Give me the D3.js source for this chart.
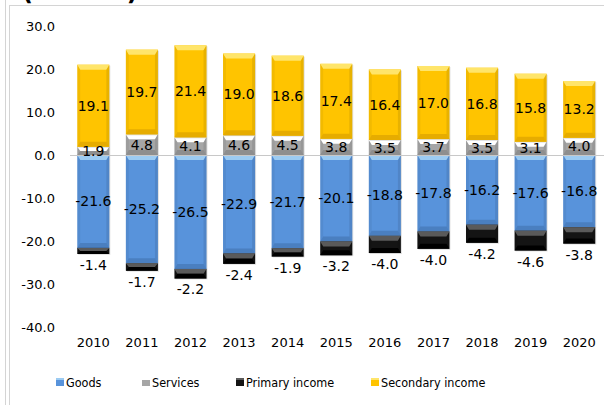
<!DOCTYPE html>
<html><head><meta charset="utf-8">
<script src="https://cdn.jsdelivr.net/npm/d3@7"></script>
<style>body{margin:0;background:#fff;}svg{display:block;}</style>
</head><body>
<script>
const years = ["2010","2011","2012","2013","2014","2015","2016","2017","2018","2019","2020"];
const goods = [-21.6,-25.2,-26.5,-22.9,-21.7,-20.1,-18.8,-17.8,-16.2,-17.6,-16.8];
const services = [1.9,4.8,4.1,4.6,4.5,3.8,3.5,3.7,3.5,3.1,4.0];
const primaryIncome = [-1.4,-1.7,-2.2,-2.4,-1.9,-3.2,-4.0,-4.0,-4.2,-4.6,-3.8];
const secondaryIncome = [19.1,19.7,21.4,19.0,18.6,17.4,16.4,17.0,16.8,15.8,13.2];
const yTicks = [30,20,10,0,-10,-20,-30,-40];
const seriesNames = ["Goods","Services","Primary income","Secondary income"];

const W=604,H=405;
const svg=d3.select("body").append("svg").attr("width",W).attr("height",H);
const numFont="'DejaVu Sans', Verdana, sans-serif";
const fmt=v=>d3.format(".1f")(v).replace("\u2212","-");

// frame
svg.append("line").attr("x1",5.5).attr("x2",5.5).attr("y1",0).attr("y2",H).attr("stroke","#d4d4d4");
svg.append("line").attr("x1",9.5).attr("x2",9.5).attr("y1",5).attr("y2",H).attr("stroke","#d4d4d4");
svg.append("line").attr("x1",9.5).attr("x2",W).attr("y1",5.5).attr("y2",5.5).attr("stroke","#d4d4d4");
const title=svg.append("text").attr("x",22).attr("y",-0.5).attr("font-family",numFont).attr("font-weight","bold")
  .attr("font-size",18).attr("fill","#000");
title.append("tspan").attr("font-size",24).text("(");
title.append("tspan").attr("dy",-2).text("% of GDP");
title.append("tspan").attr("dy",2).attr("font-size",24).text(")");

const x=d3.scaleBand().domain(years).range([69,603.5]).paddingInner(0.34).paddingOuter(0.17);
const y=d3.scaleLinear().domain([-40,30]).range([327,26]);

// y tick labels
const yAxis=d3.axisLeft(y).tickValues(yTicks).tickFormat(fmt).tickSize(0).tickPadding(0);
const ga=svg.append("g").attr("transform","translate(55,0)").call(yAxis);
ga.select(".domain").remove();
ga.selectAll("text").attr("font-family",numFont).attr("font-size",13).attr("fill","#000").attr("dy","0.35em");

// x labels
const xAxis=d3.axisBottom(x).tickSize(0).tickPadding(0);
const gx=svg.append("g").attr("transform","translate(0,342)").call(xAxis);
gx.select(".domain").remove();
gx.selectAll("text").attr("font-family",numFont).attr("font-size",13).attr("fill","#000").attr("dy","0.35em");

const styles={
  "Goods":{fill:"#5893DB",top:"#9CCBF2",bot:"#4A7FC0"},
  "Services":{fill:"#A6A6A6",top:"#FFFFFF",bot:"#8E8E8E"},
  "Primary income":{fill:"#141414",top:"#5A5A5A",bot:"#000000"},
  "Secondary income":{fill:"#FFC400",top:"#FFE56A",bot:"#E6AC00"}
};

const data=years.map((yr,i)=>({year:yr,Goods:goods[i],Services:services[i],"Primary income":primaryIncome[i],"Secondary income":secondaryIncome[i]}));
const stack=d3.stack().keys(seriesNames).offset(d3.stackOffsetDiverging);
const layers=stack(data);

const bw=x.bandwidth();
const gBars=svg.append("g");
layers.forEach(layer=>{
  const st=styles[layer.key];
  layer.forEach(seg=>{
    const x0=x(seg.data.year);
    const yTop=y(Math.max(seg[0],seg[1])), yBot=y(Math.min(seg[0],seg[1]));
    const h=yBot-yTop;
    const g=gBars.append("g");
    g.append("rect").attr("x",x0+1).attr("y",yTop+1).attr("width",bw).attr("height",h).attr("fill","rgba(0,0,0,0.12)");
    g.append("rect").attr("x",x0).attr("y",yTop).attr("width",bw).attr("height",h).attr("fill",st.fill);
    const b=Math.min(5,h/2), s=Math.min(3,h/2);
    g.append("path").attr("d",`M${x0},${yTop}L${x0+bw},${yTop}L${x0+bw-s},${yTop+b}L${x0+s},${yTop+b}Z`).attr("fill",st.top);
    g.append("path").attr("d",`M${x0},${yBot}L${x0+bw},${yBot}L${x0+bw-s},${yBot-b}L${x0+s},${yBot-b}Z`).attr("fill",st.bot);
    g.append("path").attr("d",`M${x0},${yTop}L${x0+s},${yTop+b}L${x0+s},${yBot-b}L${x0},${yBot}Z`).attr("fill","rgba(0,0,0,0.05)");
    g.append("path").attr("d",`M${x0+bw},${yTop}L${x0+bw-s},${yTop+b}L${x0+bw-s},${yBot-b}L${x0+bw},${yBot}Z`).attr("fill","rgba(0,0,0,0.09)");
  });
});

// zero line
svg.append("line").attr("x1",70).attr("x2",604).attr("y1",y(0)+0.5).attr("y2",y(0)+0.5).attr("stroke","#c8c8c8").attr("stroke-width",1);

// labels
const gl=svg.append("g").attr("font-family",numFont).attr("font-size",14).attr("fill","#000").attr("text-anchor","middle");
layers.forEach(layer=>{
  layer.forEach(seg=>{
    const v=seg.data[layer.key];
    const cx=x(seg.data.year)+bw/2;
    let cy;
    if(layer.key==="Primary income"){ cy=y(Math.min(seg[0],seg[1]))+11; }
    else cy=(y(seg[0])+y(seg[1]))/2;
    gl.append("text").attr("x",cx).attr("y",cy).attr("dy","0.36em").text(fmt(v));
  });
});

// legend
const legX=[56,142,236,371];
const lg=svg.append("g");
seriesNames.forEach((n,i)=>{
  const st=styles[n];
  lg.append("rect").attr("x",legX[i]).attr("y",378).attr("width",8).attr("height",8).attr("fill",st.fill);
  lg.append("rect").attr("x",legX[i]).attr("y",378).attr("width",8).attr("height",2).attr("fill",st.top);
  lg.append("text").attr("x",legX[i]+10).attr("y",382.5).attr("dy","0.35em")
    .attr("font-family","'DejaVu Sans Condensed', 'DejaVu Sans', sans-serif").attr("font-stretch","condensed")
    .attr("font-size",12.5).attr("fill","#000").text(n);
});
</script>
</body></html>
